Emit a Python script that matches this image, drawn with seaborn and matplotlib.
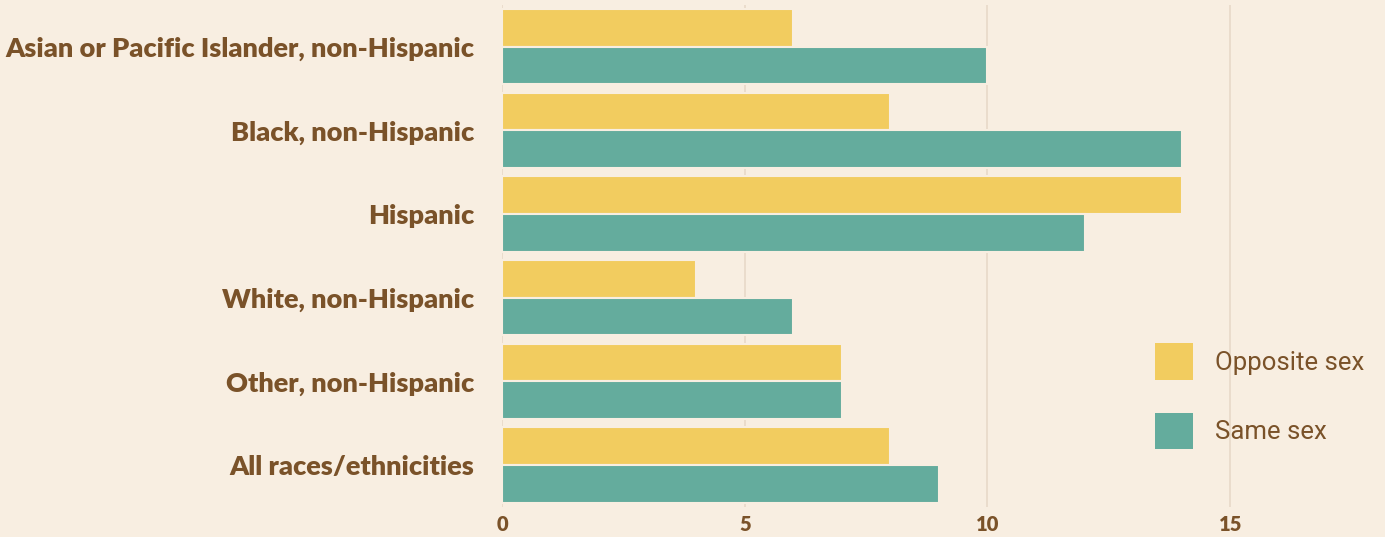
import matplotlib
matplotlib.use("Agg")
import matplotlib.pyplot as plt
import seaborn as sns
import pandas as pd
from matplotlib.patches import Patch

categories = ["Asian or Pacific Islander, non-Hispanic", "Black, non-Hispanic", "Hispanic",
              "White, non-Hispanic", "Other, non-Hispanic", "All races/ethnicities"]
opposite_sex = [6, 8, 14, 4, 7, 8]
same_sex = [10, 14, 12, 6, 7, 9]
series_names = ["Opposite sex", "Same sex"]
x_ticks = [0, 5, 10, 15]

BG = "#F8EEE1"
YELLOW = "#F2CC5F"
TEAL = "#64AC9D"
BROWN = "#7A5229"
GRID = "#E8D9C8"

sns.set_theme(style="white")
plt.rcParams['font.family'] = ['Lato', 'DejaVu Sans']

df = pd.DataFrame({
    "category": categories * 2,
    "value": opposite_sex + same_sex,
    "series": [series_names[0]] * len(categories) + [series_names[1]] * len(categories),
})

fig = plt.figure(figsize=(13.85, 5.37), dpi=100, facecolor=BG)
ax = fig.add_axes([0.3625, 0.056, 0.6375, 0.935])
ax.set_facecolor(BG)

sns.barplot(data=df, y="category", x="value", hue="series", order=categories,
            hue_order=series_names, palette=[YELLOW, TEAL], saturation=1, width=0.9,
            edgecolor=BG, linewidth=1.5, orient="h", ax=ax, legend=False, zorder=3)

ax.set_xlim(0, 18.19)
ax.set_ylim(5.5, -0.5)
ax.set_xticks(x_ticks)
ax.set_xticklabels([str(t) for t in x_ticks])
ax.grid(axis="x", color=GRID, linewidth=1.2, zorder=0)
ax.set_axisbelow(True)
for s in ax.spines.values():
    s.set_visible(False)
ax.set_xlabel("")
ax.set_ylabel("")
ax.tick_params(axis="both", length=0)
ax.tick_params(axis="y", pad=20)
ax.tick_params(axis="x", pad=6)
for lab in ax.get_yticklabels():
    lab.set_fontsize(19.5)
    lab.set_fontweight("heavy")
    lab.set_color(BROWN)
for lab in ax.get_xticklabels():
    lab.set_fontsize(14.5)
    lab.set_fontweight("heavy")
    lab.set_color(BROWN)

handles = [Patch(facecolor=YELLOW, edgecolor="none"), Patch(facecolor=TEAL, edgecolor="none")]
leg = fig.legend(handles, series_names, loc="center left", bbox_to_anchor=(0.817, 0.262),
                 frameon=False, handlelength=1.5, handleheight=1.8,
                 labelspacing=1.3, handletextpad=0.85, labelcolor=BROWN,
                 prop={"family": "Roboto", "size": 18.5})

fig.savefig("out.png", dpi=100, facecolor=BG)
